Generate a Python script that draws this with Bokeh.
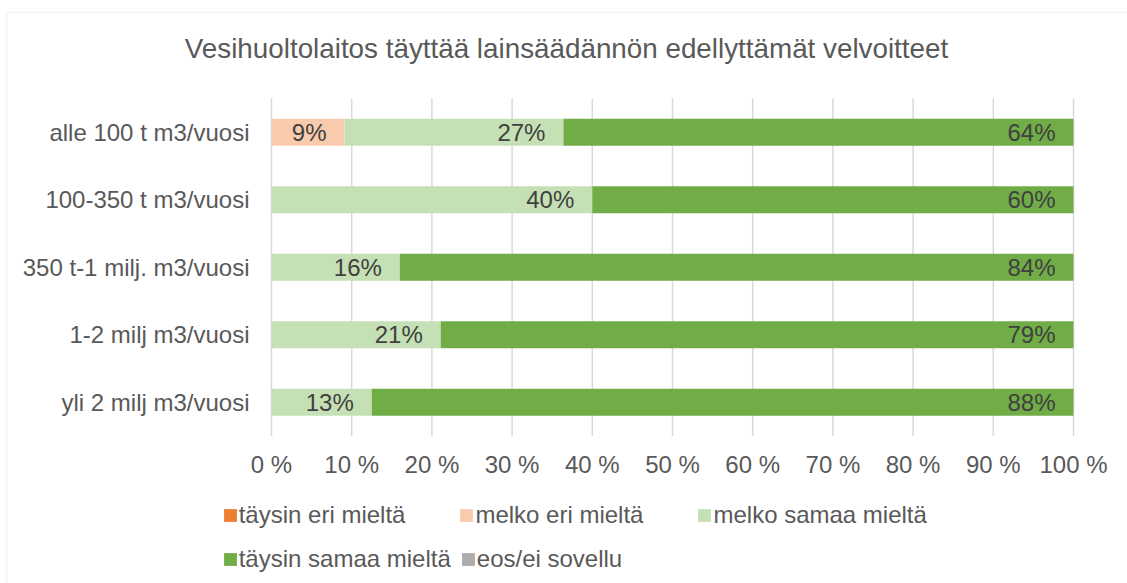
from bokeh.plotting import figure
from bokeh.models import (Range1d, ColumnDataSource, Legend, LegendItem, Label,
                          BoxAnnotation, FixedTicker)
from bokeh.core.properties import value
from bokeh.embed import file_html
from bokeh.resources import INLINE

title = "Vesihuoltolaitos täyttää lainsäädännön edellyttämät velvoitteet"
categories = ["alle 100 t m3/vuosi", "100-350 t m3/vuosi", "350 t-1 milj. m3/vuosi",
              "1-2 milj m3/vuosi", "yli 2 milj m3/vuosi"]
series = ["täysin eri mieltä", "melko eri mieltä", "melko samaa mieltä",
          "täysin samaa mieltä", "eos/ei sovellu"]
taysin_eri = [0, 0, 0, 0, 0]
melko_eri = [9.1, 0, 0, 0, 0]
melko_samaa = [27.3, 40, 16, 21.1, 12.5]
taysin_samaa = [63.6, 60, 84, 78.9, 87.5]
eos = [0, 0, 0, 0, 0]
colors = ["#ED7D31", "#F8CBAD", "#C5E0B4", "#70AD47", "#AEABAB"]
x_ticks = [0, 10, 20, 30, 40, 50, 60, 70, 80, 90, 100]

FONT = "Liberation Sans"
values = [taysin_eri, melko_eri, melko_samaa, taysin_samaa, eos]

# ---- layout (pixels) ----
W, H = 1127, 583
PLOT_L, PLOT_R = 271, 1073        # 0 % and 100 %
PLOT_T, PLOT_B = 98, 435.5        # top of first band, bottom of last band
n = len(categories)
px_x = (PLOT_R - PLOT_L) / 100.0
px_y = (PLOT_B - PLOT_T) / n

x_range = Range1d(-PLOT_L / px_x, (W - PLOT_L) / px_x)
y_range = Range1d(-(H - PLOT_B) / px_y, n + PLOT_T / px_y)

p = figure(width=W, height=H, x_range=x_range, y_range=y_range,
           output_backend="svg", toolbar_location=None,
           min_border=0, min_border_left=0, min_border_right=0,
           min_border_top=0, min_border_bottom=0)
p.outline_line_color = None
p.background_fill_color = "white"
p.border_fill_color = "white"
p.xgrid.visible = False
p.ygrid.visible = False

y_pos = [n - i - 0.5 for i in range(n)]

# grid lines (vertical, only over the bar area)
p.segment(x0=x_ticks, y0=[0] * len(x_ticks), x1=x_ticks, y1=[n] * len(x_ticks),
          line_color="#D9D9D9", line_width=1.5)

# axes
xa = p.xaxis[0]
ya = p.yaxis[0]
xa.fixed_location = 0
ya.fixed_location = 0
xa.ticker = FixedTicker(ticks=x_ticks)
xa.major_label_overrides = {t: f"{t} %" for t in x_ticks}
ya.ticker = FixedTicker(ticks=y_pos)
ya.major_label_overrides = {yp: c for yp, c in zip(y_pos, categories)}
for ax in (xa, ya):
    ax.axis_line_color = None
    ax.major_tick_line_color = None
    ax.minor_tick_line_color = None
    ax.major_tick_out = 0
    ax.major_tick_in = 0
    ax.major_label_text_font = FONT
    ax.major_label_text_font_size = "24px"
    ax.major_label_text_color = "#595959"
xa.major_label_standoff = 15
ya.major_label_standoff = 22

# bars
left = [0.0] * n
renderers = []
lx, ly, lt = [], [], []
for name, vals, col in zip(series, values, colors):
    right = [l + v for l, v in zip(left, vals)]
    src = ColumnDataSource(dict(y=y_pos, left=left, right=right))
    r = p.hbar(y="y", left="left", right="right", height=0.4, source=src,
               fill_color=col, line_color=None)
    renderers.append(r)
    for yy, v, rr in zip(y_pos, vals, right):
        if v > 0:
            lx.append(rr)
            ly.append(yy)
            lt.append(f"{int(v + 0.5)}%")
    left = right

lab_src = ColumnDataSource(dict(x=lx, y=ly, t=lt))
p.text(x="x", y="y", text="t", source=lab_src, text_align="right", text_baseline="middle",
       x_offset=-18, text_font=value(FONT), text_font_size="24px", text_color="#404040")

# legends (two rows)
def make_legend(idx, loc, spacing):
    items = [LegendItem(label=series[i], renderers=[renderers[i]]) for i in idx]
    lg = Legend(items=items, orientation="horizontal", location=loc, spacing=spacing,
                glyph_width=16, glyph_height=16, label_standoff=1, label_height=24,
                label_text_font=FONT, label_text_font_size="24px",
                label_text_color="#595959", border_line_color=None,
                background_fill_alpha=0, padding=0, margin=0)
    p.add_layout(lg)

make_legend([0, 1, 2], (221.7, 54), 53)
make_legend([3, 4], (221.7, 10), 9)

# title
p.add_layout(Label(x=566, y=H - 48, x_units="screen", y_units="screen", text=title,
                   text_align="center", text_baseline="middle", text_font=FONT,
                   text_font_size="27.8px", text_color="#595959"))

# outer chart border
p.add_layout(BoxAnnotation(left=6, right=W + 20, top=H - 12, bottom=-20,
                           left_units="screen", right_units="screen",
                           top_units="screen", bottom_units="screen",
                           fill_color=None, fill_alpha=0, line_color="#D9D9D9",
                           line_width=1.5))

open("out.html", "w").write(file_html(p, INLINE))
